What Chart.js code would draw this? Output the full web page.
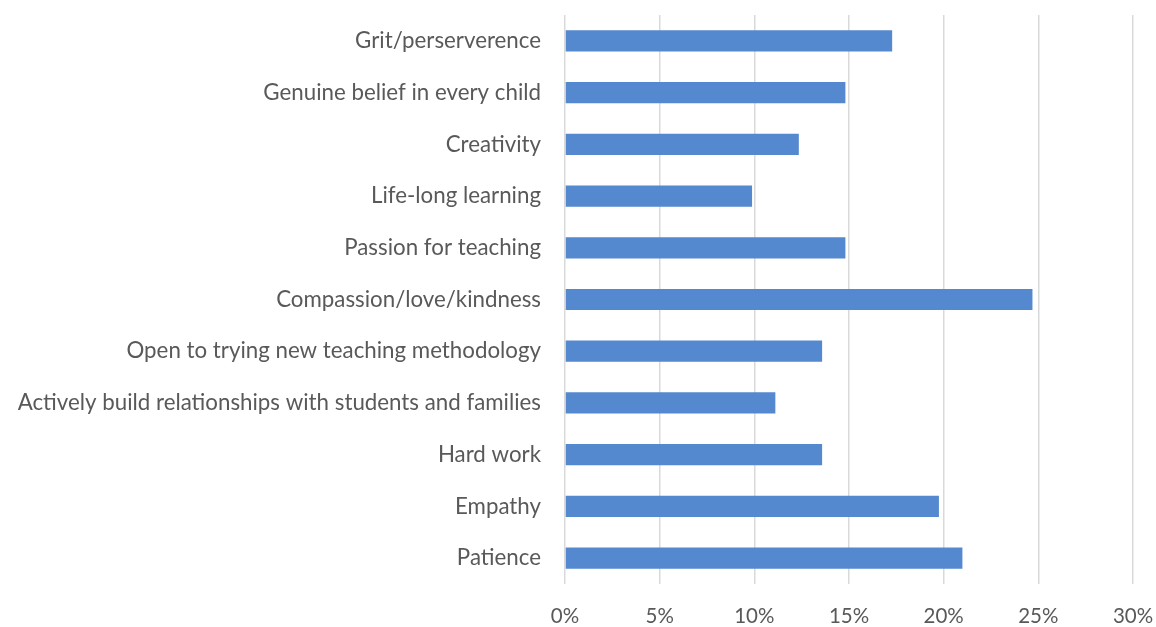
<!DOCTYPE html>
<html>
<head>
<meta charset="utf-8">
<script src="https://cdn.jsdelivr.net/npm/chart.js@4"></script>
<style>
  html, body { margin: 0; padding: 0; background: #fff; }
  #wrap { width: 1156px; height: 627px; }
</style>
</head>
<body>
<div id="wrap"><canvas id="traitsChart"></canvas></div>
<script>
const categories = [
    'Grit/perserverence',
    'Genuine belief in every child',
    'Creativity',
    'Life-long learning',
    'Passion for teaching',
    'Compassion/love/kindness',
    'Open to trying new teaching methodology',
    'Actively build relationships with students and families',
    'Hard work',
    'Empathy',
    'Patience'
];
const shares = [17.28, 14.81, 12.35, 9.88, 14.81, 24.69, 13.58, 11.11, 13.58, 19.75, 20.99];
const xTicks = [0, 5, 10, 15, 20, 25, 30];

const ctx = document.getElementById('traitsChart').getContext('2d');
const textColor = '#595959';
const gridColor = '#d9d9d9';

new Chart(ctx, {
    type: 'bar',
    data: {
        labels: categories,
        datasets: [{
            data: shares,
            backgroundColor: '#5589cf',
            borderWidth: 0,
            categoryPercentage: 1,
            barPercentage: 0.41
        }]
    },
    options: {
        indexAxis: 'y',
        responsive: true,
        maintainAspectRatio: false,
        animation: false,
        layout: { padding: { top: 15, right: 23, bottom: 0, left: 0 } },
        plugins: {
            legend: { display: false },
            tooltip: { enabled: false }
        },
        scales: {
            x: {
                min: 0,
                max: 30,
                afterBuildTicks: axis => { axis.ticks = xTicks.map(v => ({ value: v })); },
                afterFit: axis => {
                    axis.height = 43;
                    axis.paddingLeft = 0;
                    axis.paddingRight = 0;
                },
                grid: { color: gridColor, lineWidth: 1.5, drawTicks: false },
                border: { display: false },
                ticks: {
                    color: textColor,
                    padding: 20,
                    font: { family: 'Lato', size: 20.5 },
                    callback: v => v + '%'
                }
            },
            y: {
                afterFit: axis => {
                    axis.width = 565;
                    axis.paddingTop = 0;
                    axis.paddingBottom = 0;
                },
                grid: { display: false, drawTicks: false },
                border: { display: false },
                ticks: {
                    color: textColor,
                    padding: 24,
                    autoSkip: false,
                    font: { family: 'Lato', size: 22.3 }
                }
            }
        }
    }
});
</script>
</body>
</html>
